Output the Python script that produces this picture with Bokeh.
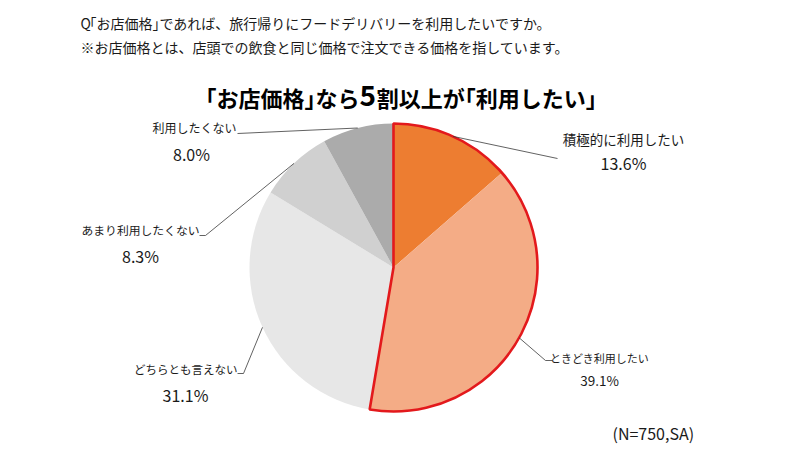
import math
from bokeh.plotting import figure
from bokeh.models import Range1d
from bokeh.core.properties import value
from bokeh.embed import file_html
from bokeh.resources import INLINE

# ---- data ----
categories = ["積極的に利用したい", "ときどき利用したい", "どちらとも言えない",
              "あまり利用したくない", "利用したくない"]
shares = [13.6, 39.1, 31.1, 8.3, 8.0]
highlight_count = 2  # first two slices outlined in red ("利用したい")
question_lines = ["Q「お店価格」であれば、旅行帰りにフードデリバリーを利用したいですか。",
                  "※お店価格とは、店頭での飲食と同じ価格で注文できる価格を指しています。"]
headline_parts = ["「お店価格」なら", "5", "割以上が「利用したい」"]
note_text = "(N=750,SA)"

# ---- style / layout ----
FONT = value("Noto Sans CJK JP")
W, H = 796, 448
PAGE_H = 450
colors = ["#ED7D31", "#F4AC86", "#E7E7E7", "#D0D0D0", "#ABABAB"]
CX, CY, R = 393, 267, 144  # page pixel coordinates


def Y(py):
    return PAGE_H - py


p = figure(width=W, height=H, output_backend="svg", toolbar_location=None,
           x_range=Range1d(0, W), y_range=Range1d(PAGE_H - H, PAGE_H),
           x_axis_location=None, y_axis_location=None, min_border=0)
p.grid.visible = False
p.outline_line_color = None
p.background_fill_color = "white"

total = sum(shares)
starts, ends, mids = [], [], []
acc = 0.0
for v in shares:
    f0 = acc / total
    acc += v
    f1 = acc / total
    starts.append(math.pi / 2 - f1 * 2 * math.pi)
    ends.append(math.pi / 2 - f0 * 2 * math.pi)
    mids.append((f0 + f1) / 2)

p.wedge(x=[CX] * len(shares), y=[Y(CY)] * len(shares), radius=R,
        start_angle=starts, end_angle=ends, fill_color=colors, line_color=None)

# red outline around highlighted slices
hl_frac = sum(shares[:highlight_count]) / total
p.wedge(x=[CX], y=[Y(CY)], radius=R,
        start_angle=[math.pi / 2 - hl_frac * 2 * math.pi], end_angle=[math.pi / 2],
        fill_color=None, line_color="#E3191C", line_width=2.6)

# label layout: (name x, name y, align, name size, pct x, pct y, pct size, leader path end points)
label_layout = [
    (623, 138, "center", "13.5px", 623, 162, "16px", [(557, 158)]),
    (599, 357, "center", "11px", 599, 379, "13.5px", [(545, 360), (552, 360)]),
    (237, 368, "right", "11.5px", 185, 394, "16px", [(243, 373), (237, 373)]),
    (199, 229, "right", "11.8px", 140, 255, "16px", [(205, 235), (199, 235)]),
    (236, 127, "right", "12px", 191, 153, "16px", [(237, 133)]),
]

for i, (name, v) in enumerate(zip(categories, shares)):
    nx, ny, al, ns, px, py, ps, path = label_layout[i]
    ang = mids[i] * 2 * math.pi
    sx = CX + R * math.sin(ang)
    sy = CY - R * math.cos(ang)
    xs = [sx] + [pt[0] for pt in path]
    ys = [Y(sy)] + [Y(pt[1]) for pt in path]
    p.line(xs, ys, line_color="#3A3A3A", line_width=0.8)
    p.text(x=[nx], y=[Y(ny)], text=[name], text_font=FONT, text_font_size=value(ns),
           text_align=al, text_baseline="middle", text_color="#1A1A1A")
    p.text(x=[px], y=[Y(py)], text=[f"{v:.1f}%"], text_font=FONT, text_font_size=value(ps),
           text_align="center", text_baseline="middle", text_color="#1A1A1A")


def char_w(ch, size):
    if ord(ch) < 128:
        return size * (0.62 if ch.isdigit() else 0.64)
    return size


def draw_tight(segments, x0, py, bold=False, color="#1A1A1A"):
    """Draw text runs left to right with narrow (proportional-looking) corner brackets."""
    cur = x0
    for text, size, dy in segments:
        run = ""
        pieces = []
        for ch in text:
            if ch in "「」":
                if run:
                    pieces.append((run, "n"))
                    run = ""
                pieces.append((ch, "o" if ch == "「" else "c"))
            else:
                run += ch
        if run:
            pieces.append((run, "n"))
        for s, kind in pieces:
            if kind == "o":
                xdraw = cur - 0.5 * size
                adv = 0.5 * size
            elif kind == "c":
                xdraw = cur
                adv = 0.5 * size
            else:
                xdraw = cur
                adv = sum(char_w(c, size) for c in s)
            p.text(x=[xdraw], y=[Y(py + dy)], text=[s], text_font=FONT,
                   text_font_size=value(f"{size}px"),
                   text_font_style="bold" if bold else "normal",
                   text_align="left", text_baseline="middle", text_color=color)
            cur += adv
    return cur


# question text
draw_tight([(question_lines[0], 14, 0)], 80, 22)
draw_tight([(question_lines[1], 14, 0)], 80, 46)

# headline with large "5"
draw_tight([(headline_parts[0], 22, 0), (headline_parts[1], 28, -1),
            (headline_parts[2], 22, 0)], 205, 96, bold=True, color="#000000")

# sample note
p.text(x=[612], y=[Y(432)], text=[note_text], text_font=FONT, text_font_size=value("16px"),
       text_align="left", text_baseline="middle", text_color="#1A1A1A")

open("out.html", "w").write(file_html(p, INLINE))
